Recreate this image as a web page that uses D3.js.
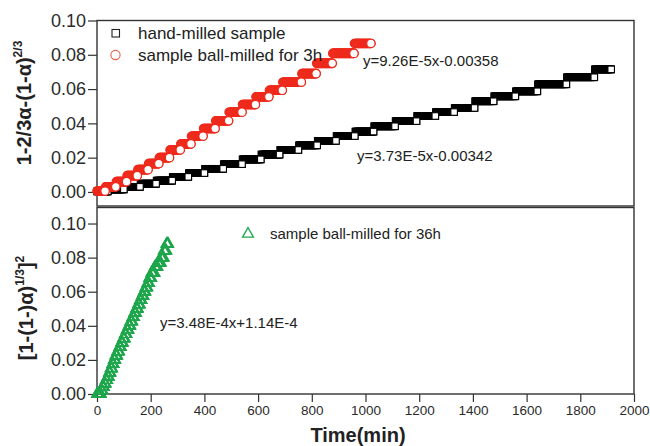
<!DOCTYPE html>
<html lang="en">
<head>
<meta charset="UTF-8">
<title>Conversion kinetics</title>
<style>
    body { margin: 0; background: #fff; }
    svg { display: block; font-family: "Liberation Sans", Arial, sans-serif; }
    .frame { fill: none; stroke: #333; stroke-width: 1.4; }
    .tick line { stroke: #333; stroke-width: 1.2; }
    .ticklabel { fill: #2b2b2b; }
</style>
</head>
<body>
<div id="chart"></div>
<script src="https://d3js.org/d3.v7.min.js"></script>
<script>
    // x ticks (min) and y ticks shared by both panels
    const xTicks = [0, 200, 400, 600, 800, 1000, 1200, 1400, 1600, 1800, 2000];
    const yTicks = [0.00, 0.02, 0.04, 0.06, 0.08, 0.10];

    // each series is a staircase: [end of step (min), level]
    const handMilled = [
        [40, 0.0003], [100, 0.0015], [160, 0.003], [220, 0.0048], [280, 0.0066],
        [340, 0.0088], [400, 0.011], [470, 0.0135], [540, 0.0162], [610, 0.019],
        [680, 0.0218], [750, 0.0245], [820, 0.0272], [890, 0.0298], [960, 0.0326],
        [1030, 0.0352], [1110, 0.0383], [1190, 0.0413], [1260, 0.0443], [1330, 0.0466],
        [1406, 0.049], [1477, 0.0529], [1558, 0.0558], [1640, 0.0587], [1748, 0.0628],
        [1852, 0.0669], [1915, 0.0715]
    ];
    const ballMilled3h = [
        [30, 0.0005], [70, 0.003], [110, 0.006], [150, 0.0095], [190, 0.013],
        [230, 0.0165], [270, 0.020], [310, 0.0245], [350, 0.028], [395, 0.0325],
        [440, 0.037], [490, 0.0415], [540, 0.0465], [590, 0.051], [640, 0.0555],
        [690, 0.0593], [761, 0.064], [816, 0.069], [876, 0.075], [957, 0.0808],
        [1020, 0.0866]
    ];
    const ballMilled36h = [
        [14, 0.000], [20, 0.002], [26, 0.004], [32, 0.006], [38, 0.008],
        [44, 0.010], [50, 0.0125], [56, 0.015], [62, 0.0175], [68, 0.020],
        [75, 0.0225], [82, 0.025], [89, 0.0275], [96, 0.030], [103, 0.0325],
        [110, 0.035], [117, 0.0375], [124, 0.040], [131, 0.0425], [138, 0.045],
        [145, 0.0475], [152, 0.050], [159, 0.0525], [166, 0.055], [173, 0.0575],
        [180, 0.060], [187, 0.0625], [194, 0.065], [202, 0.068], [214, 0.071],
        [225, 0.0745], [237, 0.077], [248, 0.080], [258, 0.084], [265, 0.088]
    ];

    const fitHand = "y=3.73E-5x-0.00342";
    const fit3h = "y=9.26E-5x-0.00358";
    const fit36h = "y=3.48E-4x+1.14E-4";

    // a reading every few minutes, held at the level of its step
    function readings(steps, every) {
        const pts = [];
        let t0 = 0;
        steps.forEach(([tEnd, v]) => {
            for (let t = t0; t < tEnd; t += every) pts.push([t, v]);
            pts.push([tEnd, v]);
            t0 = tEnd + every;
        });
        return pts;
    }

    const width = 650, height = 446;
    const left = 97, right = 634;

    const svg = d3.select("#chart").append("svg")
        .attr("width", width)
        .attr("height", height);

    const x = d3.scaleLinear().domain([0, 2000]).range([left, right]);
    const yTop = d3.scaleLinear().domain([-0.0082, 0.10]).range([206, 20.5]);
    const yBot = d3.scaleLinear().domain([0, 0.1094]).range([394, 207.5]);

    const red = "#ee2a1c", green = "#1fa64c";

    // y axes with minor ticks
    function yAxis(scale) {
        const g = svg.append("g").attr("transform", "translate(" + left + ",0)");
        g.call(d3.axisLeft(scale).tickValues(d3.range(0, 0.1001, 0.01))
            .tickSize(4).tickFormat(""))
            .call(s => s.select(".domain").remove());
        g.call(d3.axisLeft(scale).tickValues(yTicks).tickSize(9).tickPadding(2)
            .tickFormat(d3.format(".2f")))
            .call(s => s.select(".domain").remove());
        g.selectAll("text").attr("class", "ticklabel").style("font-size", "18px")
            .style("font-family", "Liberation Sans, Arial, sans-serif");
    }
    yAxis(yTop);
    yAxis(yBot);

    // shared x axis at the bottom
    const gx = svg.append("g").attr("transform", "translate(0,394)");
    gx.call(d3.axisBottom(x).tickValues(d3.range(0, 2001, 100)).tickSize(4).tickFormat(""))
        .call(s => s.select(".domain").remove());
    gx.call(d3.axisBottom(x).tickValues(xTicks).tickSize(8).tickPadding(3).tickFormat(d3.format("d")))
        .call(s => s.select(".domain").remove());
    gx.selectAll("text").attr("class", "ticklabel").style("font-size", "13.5px")
        .style("font-family", "Liberation Sans, Arial, sans-serif");

    // panel frames
    svg.append("rect").attr("class", "frame")
        .attr("x", left).attr("y", yTop.range()[1])
        .attr("width", right - left).attr("height", yTop.range()[0] - yTop.range()[1]);
    svg.append("rect").attr("class", "frame")
        .attr("x", left).attr("y", yBot.range()[1])
        .attr("width", right - left).attr("height", yBot.range()[0] - yBot.range()[1]);

    // open markers; the dense runs overlap into a solid band, and the last
    // reading of every step is drawn again on top with a white face
    const sq = 6.5;
    const squares = (sel, fill) => sel
        .attr("x", d => x(d[0]) - sq / 2)
        .attr("y", d => yTop(d[1]) - sq / 2)
        .attr("width", sq).attr("height", sq)
        .attr("fill", fill).attr("stroke", "#000").attr("stroke-width", 1.1);
    svg.append("g").selectAll("rect").data(readings(handMilled, 2)).join("rect").call(squares, "none");
    svg.append("g").selectAll("rect").data(handMilled).join("rect").call(squares, "#fff");

    const circles = (sel, fill) => sel
        .attr("cx", d => x(d[0]))
        .attr("cy", d => yTop(d[1]))
        .attr("r", 4.2)
        .attr("fill", fill).attr("stroke", red).attr("stroke-width", 1.2);
    svg.append("g").selectAll("circle").data(readings(ballMilled3h, 2)).join("circle").call(circles, "none");
    svg.append("g").selectAll("circle").data(ballMilled3h).join("circle").call(circles, "#fff");

    const tri = d3.symbol().type(d3.symbolTriangle).size(52);
    svg.append("g").selectAll("path")
        .data(readings(ballMilled36h, 1))
        .join("path")
        .attr("d", tri)
        .attr("transform", d => "translate(" + x(d[0]) + "," + yBot(d[1]) + ")")
        .attr("fill", "none").attr("stroke", green).attr("stroke-width", 1.2);

    // legends
    svg.append("rect").attr("x", 112).attr("y", 29.5).attr("width", 7.5).attr("height", 7.5)
        .attr("fill", "#fff").attr("stroke", "#222").attr("stroke-width", 1.1);
    svg.append("circle").attr("cx", 115.5).attr("cy", 55).attr("r", 4.6)
        .attr("fill", "#fff").attr("stroke", "#e8604c").attr("stroke-width", 1.1);
    svg.append("path").attr("d", d3.symbol().type(d3.symbolTriangle).size(52))
        .attr("transform", "translate(248,234)")
        .attr("fill", "none").attr("stroke", green).attr("stroke-width", 1.3);

    const label = (tx, ty, size, text) => svg.append("text")
        .attr("x", tx).attr("y", ty)
        .attr("fill", "#222").style("font-size", size + "px")
        .text(text);

    label(138, 39, 17, "hand-milled sample");
    label(138, 61, 17, "sample ball-milled for 3h");
    label(270, 239, 15, "sample ball-milled for 36h");
    label(363, 66, 15, fit3h);
    label(357, 161, 15, fitHand);
    label(160, 328, 15, fit36h);

    // axis titles
    svg.append("text")
        .attr("x", 358).attr("y", 442)
        .attr("text-anchor", "middle")
        .attr("fill", "#222")
        .style("font-size", "20px").style("font-weight", "bold")
        .text("Time(min)");

    const t1 = svg.append("text")
        .attr("transform", "translate(31,103) rotate(-90)")
        .attr("text-anchor", "middle")
        .attr("fill", "#222")
        .style("font-size", "20px").style("font-weight", "bold");
    t1.append("tspan").text("1-2/3α-(1-α)");
    t1.append("tspan").attr("dy", -9).style("font-size", "12px").text("2/3");

    const t2 = svg.append("text")
        .attr("transform", "translate(33,308) rotate(-90)")
        .attr("text-anchor", "middle")
        .attr("fill", "#222")
        .style("font-size", "20px").style("font-weight", "bold");
    t2.append("tspan").text("[1-(1-)α)");
    t2.append("tspan").attr("dy", -9).style("font-size", "12px").text("1/3");
    t2.append("tspan").attr("dy", 9).text("]");
    t2.append("tspan").attr("dy", -9).style("font-size", "12px").text("2");
</script>
</body>
</html>
